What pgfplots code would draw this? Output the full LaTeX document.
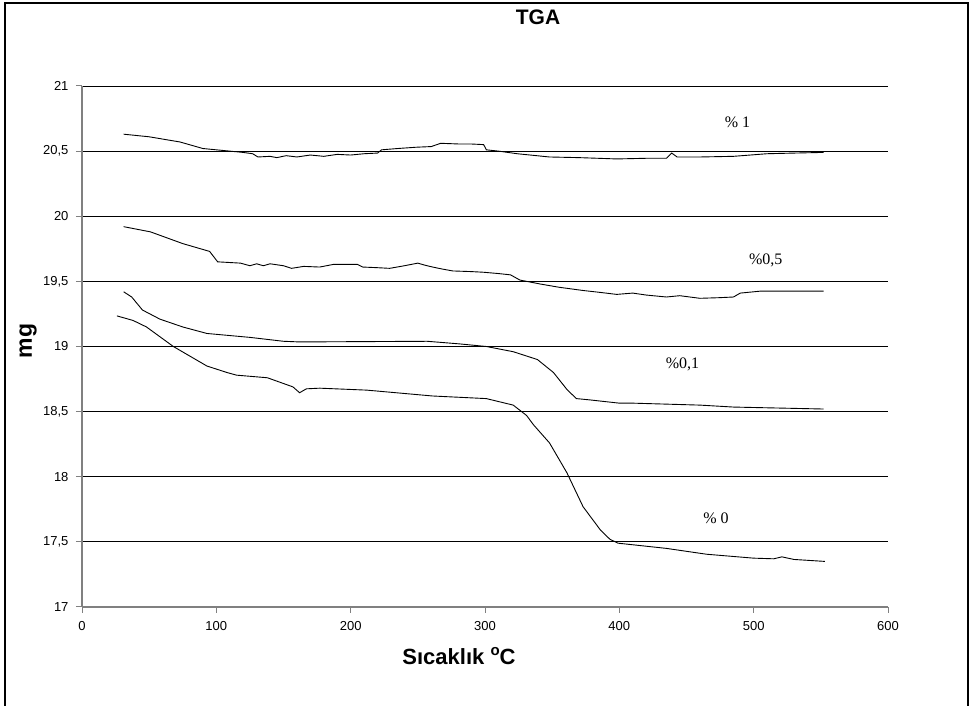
\documentclass[border=0pt]{standalone}
\usepackage{pgfplots}
\pgfplotsset{compat=1.18}
\usepackage{fontspec}
\setmainfont{Liberation Sans}
\newfontfamily\seriffont{Liberation Serif}
\begin{document}
\begin{tikzpicture}[x=1pt,y=1pt]
\path[use as bounding box] (0,0) rectangle (972,706);
\draw[line width=2pt] (5,0) -- (5,703) -- (968,703) -- (968,0);
\node[font=\fontsize{21}{21}\selectfont\bfseries] at (538,689) {TGA};
\node[font=\fontsize{23}{23}\selectfont\bfseries, rotate=90] at (28,365) {mg};
\node[font=\fontsize{22}{22}\selectfont\bfseries] at (459,50) {Sıcaklık \raisebox{0.75ex}{\fontsize{15}{15}\selectfont o}C};
\begin{axis}[
  at={(82pt,99pt)}, anchor=south west,
  scale only axis, width=806pt, height=521pt,
  xmin=0, xmax=600, ymin=17, ymax=21,
  xtick={0,100,...,600}, ytick={17,17.5,...,21},
  axis x line*=bottom, axis y line*=left,
  axis line style={-, draw=gray, line width=1.3pt},
  ymajorgrids, grid style={black, line width=0.9pt},
  tick align=outside, major tick length=6pt,
  tick style={gray, line width=1pt},
  /pgf/number format/assume math mode=true,
  /pgf/number format/use comma,
  ticklabel style={font=\fontsize{13}{13}\selectfont},
  yticklabel style={xshift=-4pt},
  xticklabel style={yshift=-5pt},
  cycle list={{black, line width=0.9pt, no marks}},
]
% %1
\addplot[black, line width=0.9pt] coordinates {(31,20.63)(50,20.61)(73,20.57)(90,20.52)(110,20.50)(120,20.49)(127,20.48)(131,20.455)(140,20.46)(145,20.45)(152,20.465)(160,20.455)(170,20.47)(180,20.46)(190,20.475)(200,20.47)(210,20.48)(220,20.485)(223,20.51)(235,20.52)(249,20.53)(260,20.535)(267,20.56)(280,20.555)(289,20.555)(299,20.55)(301,20.51)(310,20.50)(324,20.48)(348,20.455)(370,20.45)(398,20.44)(420,20.445)(435,20.445)(439,20.485)(443,20.455)(460,20.455)(485,20.46)(510,20.48)(530,20.485)(552,20.49)};
% %0,5
\addplot[black, line width=0.9pt] coordinates {(31,19.92)(51,19.88)(75,19.79)(95,19.73)(101,19.65)(118,19.64)(125,19.62)(130,19.635)(135,19.62)(140,19.635)(150,19.62)(156,19.60)(165,19.615)(177,19.61)(187,19.63)(205,19.63)(209,19.61)(220,19.605)(229,19.60)(240,19.62)(250,19.64)(255,19.625)(261,19.61)(268,19.595)(276,19.58)(290,19.575)(299,19.57)(310,19.56)(319,19.55)(326,19.51)(341,19.48)(355,19.455)(373,19.43)(386,19.415)(398,19.40)(410,19.41)(420,19.395)(435,19.38)(445,19.39)(460,19.37)(475,19.375)(485,19.38)(490,19.41)(505,19.425)(552,19.425)};
% %0,1
\addplot[black, line width=0.9pt] coordinates {(31,19.42)(37,19.38)(45,19.28)(58,19.21)(75,19.15)(93,19.10)(125,19.07)(150,19.04)(162,19.035)(257,19.04)(281,19.02)(301,19.00)(321,18.96)(339,18.90)(351,18.80)(361,18.67)(368,18.60)(378,18.59)(400,18.565)(410,18.565)(460,18.55)(485,18.535)(552,18.52)};
% %0
\addplot[black, line width=0.9pt] coordinates {(26,19.235)(38,19.20)(48,19.15)(68,19.00)(93,18.85)(108,18.80)(115,18.78)(138,18.76)(157,18.69)(162,18.645)(167,18.675)(177,18.68)(212,18.665)(261,18.62)(301,18.60)(321,18.55)(331,18.47)(336,18.40)(348,18.26)(361,18.03)(373,17.77)(386,17.59)(393,17.52)(399,17.49)(435,17.45)(465,17.405)(500,17.375)(515,17.37)(521,17.385)(530,17.365)(553,17.35)};
\node[font=\seriffont\fontsize{16}{16}\selectfont] at (axis cs:488,20.72) {\% 1};
\node[font=\seriffont\fontsize{16}{16}\selectfont] at (axis cs:509,19.66) {\%0,5};
\node[font=\seriffont\fontsize{16}{16}\selectfont] at (axis cs:447,18.86) {\%0,1};
\node[font=\seriffont\fontsize{16}{16}\selectfont] at (axis cs:472,17.68) {\% 0};
\end{axis}
\end{tikzpicture}
\end{document}
